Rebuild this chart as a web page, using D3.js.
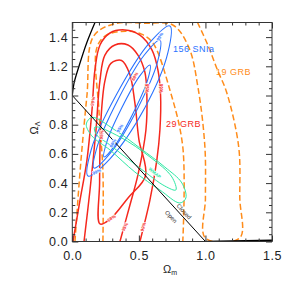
<!DOCTYPE html>
<meta charset="utf-8">
<style>
  body { margin: 0; background: #fff; }
  text { font-family: "Liberation Sans", Arial, sans-serif; }
</style>
<body>
<script src="https://d3js.org/d3.v7.min.js"></script>
<script>
  // tick values
  var xMajor = [0, 0.5, 1.0, 1.5];
  var xMinor = [0.1, 0.2, 0.3, 0.4, 0.6, 0.7, 0.8, 0.9, 1.1, 1.2, 1.3, 1.4];
  var yMajor = [0, 0.2, 0.4, 0.6, 0.8, 1.0, 1.2, 1.4];
  var yMinor = [0.05, 0.1, 0.15, 0.25, 0.3, 0.35, 0.45, 0.5, 0.55, 0.65, 0.7, 0.75,
                0.85, 0.9, 0.95, 1.05, 1.1, 1.15, 1.25, 1.3, 1.35, 1.45];

  // boundaries [Om, OL]
  var noBigBang = [[0, 1.0], [0.013, 1.085], [0.05, 1.2], [0.108, 1.36], [0.175, 1.51]];
  var flatLine = [[0, 1], [1, 0]];
  var recollapse = [[1, 0], [1.5, 0.008]];

  // 156 SNIa (closed)
  var snOuter = [[0.733, 1.476], [0.718, 1.293], [0.545, 0.916], [0.283, 0.566],
                 [0.118, 0.449], [0.143, 0.632], [0.333, 1.008], [0.578, 1.358]];
  var snMid = [[0.658, 1.380], [0.640, 1.230], [0.490, 0.910], [0.290, 0.610],
               [0.163, 0.503], [0.188, 0.653], [0.344, 0.973], [0.538, 1.274]];
  var snInner = [[0.583, 1.209], [0.565, 1.103], [0.455, 0.875], [0.320, 0.658],
                 [0.238, 0.579], [0.260, 0.684], [0.370, 0.912], [0.503, 1.129]];

  // WMAP (closed)
  var cmbOuter = [[0.105, 0.805], [0.148, 0.850], [0.320, 0.764], [0.508, 0.640],
                  [0.695, 0.510], [0.823, 0.401], [0.853, 0.298], [0.808, 0.264],
                  [0.658, 0.353], [0.470, 0.476], [0.283, 0.627], [0.145, 0.725]];
  var cmbInner = [[0.170, 0.784], [0.358, 0.716], [0.583, 0.579], [0.748, 0.442],
                  [0.778, 0.353], [0.695, 0.380], [0.508, 0.503], [0.283, 0.661],
                  [0.178, 0.736]];

  // 29 GRB
  var grb29Outer = [[0.005, 0], [0.058, 0.284], [0.110, 0.558], [0.148, 0.901], [0.170, 1.175],
                    [0.208, 1.346], [0.283, 1.428], [0.395, 1.449], [0.508, 1.414], [0.598, 1.312],
                    [0.643, 1.175], [0.663, 1.003], [0.658, 0.764], [0.635, 0.558], [0.583, 0.284],
                    [0.508, 0]];
  var grb29Mid = [[0.088, 0], [0.133, 0.353], [0.178, 0.764], [0.208, 1.106], [0.245, 1.277],
                  [0.320, 1.346], [0.418, 1.346], [0.493, 1.277], [0.545, 1.161], [0.560, 1.003],
                  [0.553, 0.764], [0.493, 0.456], [0.433, 0.250], [0.358, 0]];
  var grb29Inner = [[0.208, 0.120], [0.205, 0.400], [0.215, 0.830], [0.245, 1.100], [0.290, 1.220],
                    [0.370, 1.240], [0.430, 1.150], [0.470, 0.950], [0.500, 0.700], [0.550, 0.450],
                    [0.420, 0.300], [0.280, 0.150]];

  // 19 GRB (dashed, open)
  var grb19Outer = [[0.020, 0], [0.060, 0.500], [0.110, 1.000], [0.158, 1.403], [0.310, 1.490],
                    [0.550, 1.495], [0.755, 1.483], [0.875, 1.330], [0.945, 1.050], [0.996, 0.647],
                    [1.0, 0.3], [1.0, 0.024], [1.258, 0.024], [1.258, 0.3], [1.250, 0.647],
                    [1.158, 1.026], [1.093, 1.168], [1.018, 1.346], [0.930, 1.520]];
  var grb19Inner = [[0.230, 0], [0.230, 0.480], [0.200, 0.900], [0.183, 1.323], [0.250, 1.410],
                    [0.400, 1.440], [0.520, 1.420], [0.605, 1.360], [0.733, 1.038], [0.830, 0.647],
                    [0.830, 0]];

  // contour level labels [text, Om, OL, angle]
  var redLabels = [["68%", 0.295, 0.160, -35], ["95%", 0.395, 0.100, -62], ["99%", 0.533, 0.100, -75],
                   ["95%", 0.558, 1.050, 90], ["99%", 0.663, 1.050, 90], ["68%", 0.470, 1.130, -60],
                   ["99%", 0.155, 0.960, -82], ["95%", 0.220, 0.730, -84]];
  var blueLabels = [["99%", 0.658, 1.403, -60], ["95%", 0.358, 0.775, -60],
                    ["68%", 0.305, 0.673, -60], ["99%", 0.183, 0.478, -25]];
  var greenLabels = [["WMAP", 0.620, 0.470, 40]];

  var W = 294, H = 289;
  var m = {left: 72.3, right: 272, top: 22.5, bottom: 241.5};

  var x = d3.scaleLinear().domain([0, 1.5]).range([m.left, m.right]);
  var y = d3.scaleLinear().domain([0, 1.5]).range([m.bottom, m.top]);

  var svg = d3.select("body").append("svg")
    .attr("width", W)
    .attr("height", H);

  svg.append("clipPath").attr("id", "plotclip")
    .append("rect")
      .attr("x", m.left).attr("y", m.top)
      .attr("width", m.right - m.left).attr("height", m.bottom - m.top);

  var plot = svg.append("g").attr("clip-path", "url(#plotclip)");

  var lineOpen = d3.line().x(function(d) { return x(d[0]); }).y(function(d) { return y(d[1]); })
    .curve(d3.curveCatmullRom);
  var lineClosed = d3.line().x(function(d) { return x(d[0]); }).y(function(d) { return y(d[1]); })
    .curve(d3.curveCatmullRomClosed);
  var lineStraight = d3.line().x(function(d) { return x(d[0]); }).y(function(d) { return y(d[1]); });

  var orange = "#ff8c1a", red = "#f5281e", blue = "#2a72ff", green = "#2de8a4";

  function draw(data, gen, color, width, dash) {
    plot.append("path")
      .attr("d", gen(data))
      .attr("fill", "none")
      .attr("stroke", color)
      .attr("stroke-width", width)
      .attr("stroke-dasharray", dash || null)
      .attr("stroke-linejoin", "round");
  }

  // 19 GRB dashed
  draw(grb19Outer, lineOpen, orange, 1.5, "6,3");
  draw(grb19Inner, lineOpen, orange, 1.5, "6,3");

  // 29 GRB solid red
  draw(grb29Outer, lineOpen, red, 1.5);
  draw(grb29Mid, lineOpen, red, 1.5);
  draw(grb29Inner, lineClosed, red, 1.5);

  // SNIa
  draw(snOuter, lineClosed, blue, 1.1);
  draw(snMid, lineClosed, blue, 1.1);
  draw(snInner, lineClosed, blue, 1.1);

  // WMAP
  draw(cmbOuter, lineClosed, green, 1);
  draw(cmbInner, lineClosed, green, 1);

  // boundaries
  draw(noBigBang, lineOpen, "#000", 1.3);
  draw(flatLine, lineStraight, "#000", 1);
  draw(recollapse, lineStraight, "#000", 1.5);

  // small level labels on the contours
  function levelLabels(list, color) {
    plot.selectAll(null).data(list).enter().append("text")
      .attr("transform", function(d) { return "translate(" + x(d[1]) + "," + y(d[2]) + ") rotate(" + d[3] + ")"; })
      .attr("text-anchor", "middle").attr("dy", "0.35em")
      .attr("font-size", 4.5).attr("font-weight", "bold")
      .attr("fill", color).attr("stroke", "#fff").attr("stroke-width", 1.2)
      .attr("paint-order", "stroke")
      .text(function(d) { return d[0]; });
  }
  levelLabels(redLabels, red);
  levelLabels(blueLabels, blue);
  levelLabels(greenLabels, green);

  // axes
  var axisColor = "#333";
  function styleAxis(g) {
    g.select(".domain").remove();
    g.selectAll("line").attr("stroke", axisColor);
    g.selectAll("text").attr("fill", "#222").attr("font-size", 12.5).attr("letter-spacing", 0.6)
      .attr("font-family", "Liberation Sans, Arial, sans-serif");
  }
  var fmt = d3.format(".1f");

  svg.append("g").attr("transform", "translate(0," + m.bottom + ")")
    .call(d3.axisBottom(x).tickValues(xMajor).tickSize(-6).tickPadding(10).tickFormat(fmt)).call(styleAxis);
  svg.append("g").attr("transform", "translate(0," + m.bottom + ")")
    .call(d3.axisBottom(x).tickValues(xMinor).tickSize(-3).tickFormat("")).call(styleAxis);
  svg.append("g").attr("transform", "translate(0," + m.top + ")")
    .call(d3.axisTop(x).tickValues(xMajor).tickSize(-6).tickFormat("")).call(styleAxis);
  svg.append("g").attr("transform", "translate(0," + m.top + ")")
    .call(d3.axisTop(x).tickValues(xMinor).tickSize(-3).tickFormat("")).call(styleAxis);

  svg.append("g").attr("transform", "translate(" + m.left + ",0)")
    .call(d3.axisLeft(y).tickValues(yMajor).tickSize(-6).tickPadding(4).tickFormat(fmt)).call(styleAxis);
  svg.append("g").attr("transform", "translate(" + m.left + ",0)")
    .call(d3.axisLeft(y).tickValues(yMinor).tickSize(-3).tickFormat("")).call(styleAxis);
  svg.append("g").attr("transform", "translate(" + m.right + ",0)")
    .call(d3.axisRight(y).tickValues(yMajor).tickSize(-6).tickFormat("")).call(styleAxis);
  svg.append("g").attr("transform", "translate(" + m.right + ",0)")
    .call(d3.axisRight(y).tickValues(yMinor).tickSize(-3).tickFormat("")).call(styleAxis);

  // frame
  svg.append("rect")
    .attr("x", m.left).attr("y", m.top)
    .attr("width", m.right - m.left).attr("height", m.bottom - m.top)
    .attr("fill", "none").attr("stroke", axisColor).attr("stroke-width", 1);

  // axis titles
  var xt = svg.append("text")
    .attr("x", 170).attr("y", 273)
    .attr("text-anchor", "middle").attr("font-size", 11).attr("fill", "#222");
  xt.append("tspan").text("Ω");
  xt.append("tspan").attr("font-size", 7).attr("dy", 2).text("m");

  var yt = svg.append("text")
    .attr("transform", "translate(38,128) rotate(-90)")
    .attr("text-anchor", "middle").attr("font-size", 11).attr("fill", "#222");
  yt.append("tspan").text("Ω");
  yt.append("tspan").attr("font-size", 7).attr("dy", 2).text("Λ");

  // series labels
  function label(t, px, py, color) {
    svg.append("text").attr("x", px).attr("y", py)
      .attr("font-size", 9).attr("letter-spacing", 0.5).attr("fill", color).text(t);
  }
  label("156 SNIa", 173, 52, blue);
  label("19 GRB", 216, 75, orange);
  label("29 GRB", 166, 127, red);

  // closed / open
  var ang = Math.atan2(y(0) - y(1), x(1) - x(0)) * 180 / Math.PI;
  svg.append("text").attr("transform", "translate(184,211.5) rotate(" + ang + ")")
    .attr("text-anchor", "middle").attr("dy", "0.35em").attr("font-size", 6).attr("fill", "#333").text("Closed");
  svg.append("text").attr("transform", "translate(171,216.7) rotate(" + ang + ")")
    .attr("text-anchor", "middle").attr("dy", "0.35em").attr("font-size", 6).attr("fill", "#333").text("Open");
</script>
</body>
